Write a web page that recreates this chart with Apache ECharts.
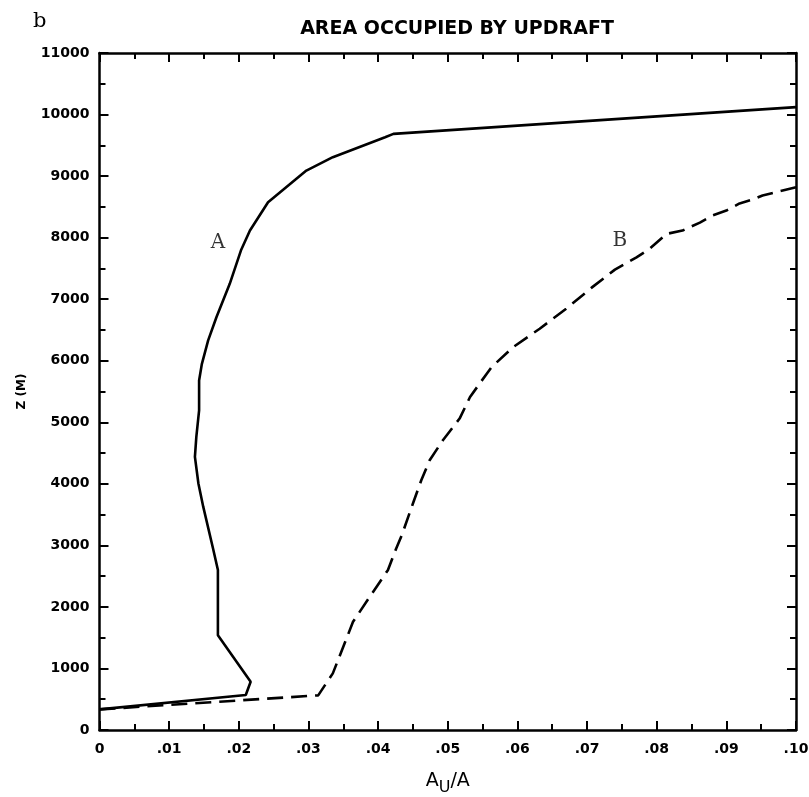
<!DOCTYPE html>
<html>
<head>
<meta charset="utf-8">
<script src="https://cdn.jsdelivr.net/npm/echarts@6/dist/echarts.min.js"></script>
<style>
  html, body { margin: 0; background: #fff; }
  #main { width: 809px; height: 797px; }
</style>
</head>
<body>
<div id="main"></div>
<script>
// curve A (solid): area fraction vs height
var aX = [0, 0.0210, 0.0217, 0.0170, 0.0170, 0.0163, 0.0149, 0.0142, 0.0137, 0.0139, 0.0143, 0.0143,
  0.0147, 0.0156, 0.0168, 0.0187, 0.0203, 0.0216, 0.0242, 0.0297, 0.0335, 0.0410, 0.0422, 0.1000]
var aZ = [335, 568, 785, 1540, 2600, 2950, 3625, 4005, 4437, 4760, 5195, 5680,
  5950, 6330, 6710, 7250, 7790, 8115, 8575, 9090, 9307, 9630, 9686, 10120]
// curve B (dashed)
var bX = [0, 0.0314, 0.0335, 0.0350, 0.0364, 0.0388, 0.0414, 0.0426, 0.0434, 0.0450, 0.0462, 0.0474,
  0.0493, 0.0517, 0.0532, 0.0556, 0.0563, 0.0594, 0.0632, 0.0670, 0.0708, 0.0740, 0.0771, 0.0790,
  0.0814, 0.0837, 0.0862, 0.0880, 0.0900, 0.0919, 0.0938, 0.0952, 0.1000]
var bZ = [335, 563, 920, 1352, 1758, 2164, 2597, 2950, 3165, 3680, 4058, 4383,
  4708, 5060, 5411, 5790, 5898, 6222, 6520, 6845, 7200, 7480, 7680, 7820,
  8060, 8115, 8245, 8360, 8440, 8555, 8620, 8685, 8820]
// curve labels
var labelNames = ['A', 'B']
var labelX = [0.0170, 0.0747]
var labelZ = [7920, 7950]

function zip (xs, zs) {
  return xs.map(function (x, i) { return [x, zs[i]] })
}

var numFont = { color: '#000', fontFamily: 'DejaVu Sans', fontWeight: 'bold', fontSize: 14 }
var frameLine = { show: true, onZero: false, lineStyle: { color: '#000', width: 2.5 } }
var majorTick = { show: true, inside: true, length: 9, lineStyle: { color: '#000', width: 2 } }
var minorTick = { show: true, splitNumber: 2, length: 6, lineStyle: { color: '#000', width: 2 } }

var mychart = echarts.init(document.getElementById('main'))
var option = {
  backgroundColor: '#fff',
  animation: false,
  title: [
    {
      text: 'b',
      left: 28,
      top: 6,
      textStyle: { color: '#000', fontFamily: 'DejaVu Serif', fontWeight: 'normal', fontSize: 21 }
    },
    {
      text: 'AREA OCCUPIED BY UPDRAFT',
      left: 452,
      top: 15,
      textAlign: 'center',
      textStyle: { color: '#000', fontFamily: 'DejaVu Sans', fontWeight: 'bold', fontSize: 19 }
    }
  ],
  grid: { left: 99.5, right: 13, top: 53, bottom: 67, containLabel: false, outerBoundsMode: 'none' },
  xAxis: [
    {
      type: 'value',
      min: 0,
      max: 0.1,
      interval: 0.01,
      axisLine: frameLine,
      axisTick: majorTick,
      minorTick: minorTick,
      splitLine: { show: false },
      axisLabel: Object.assign({
        margin: 12,
        formatter: function (v) {
          if (v === 0) return '0'
          return '.' + Math.round(v * 100).toString().padStart(2, '0')
        }
      }, numFont),
      name: '{a|A}{s|U}{a|/A}',
      nameLocation: 'middle',
      nameGap: 36,
      nameTextStyle: {
        rich: {
          a: { fontFamily: 'DejaVu Sans', fontSize: 19, color: '#000' },
          s: { fontFamily: 'DejaVu Sans', fontSize: 16, color: '#000', padding: [14, 0, 0, 0] }
        }
      }
    },
    {
      type: 'value',
      position: 'top',
      min: 0,
      max: 0.1,
      interval: 0.01,
      axisLine: frameLine,
      axisTick: majorTick,
      minorTick: minorTick,
      splitLine: { show: false },
      axisLabel: { show: false }
    }
  ],
  yAxis: [
    {
      type: 'value',
      min: 0,
      max: 11000,
      interval: 1000,
      axisLine: frameLine,
      axisTick: majorTick,
      minorTick: minorTick,
      splitLine: { show: false },
      axisLabel: Object.assign({ margin: 10, formatter: function (v) { return String(v) } }, numFont),
      name: 'Z (M)',
      nameLocation: 'middle',
      nameGap: 72,
      nameTextStyle: { color: '#000', fontFamily: 'DejaVu Sans', fontWeight: 'bold', fontSize: 12 }
    },
    {
      type: 'value',
      position: 'right',
      min: 0,
      max: 11000,
      interval: 1000,
      axisLine: frameLine,
      axisTick: majorTick,
      minorTick: minorTick,
      splitLine: { show: false },
      axisLabel: { show: false }
    }
  ],
  series: [
    {
      name: 'A',
      type: 'line',
      showSymbol: false,
      smooth: false,
      lineStyle: { color: '#000', width: 2.6 },
      data: zip(aX, aZ)
    },
    {
      name: 'B',
      type: 'line',
      showSymbol: false,
      smooth: false,
      lineStyle: { color: '#000', width: 2.6, type: [16, 8] },
      data: zip(bX, bZ)
    },
    {
      name: 'labels',
      type: 'scatter',
      symbolSize: 0,
      label: {
        show: true,
        position: 'inside',
        color: '#000',
        fontFamily: 'DejaVu Serif',
        fontSize: 20,
        formatter: function (p) { return p.name }
      },
      data: labelNames.map(function (n, i) { return { name: n, value: [labelX[i], labelZ[i]] } })
    }
  ]
}
mychart.setOption(option)
</script>
</body>
</html>
